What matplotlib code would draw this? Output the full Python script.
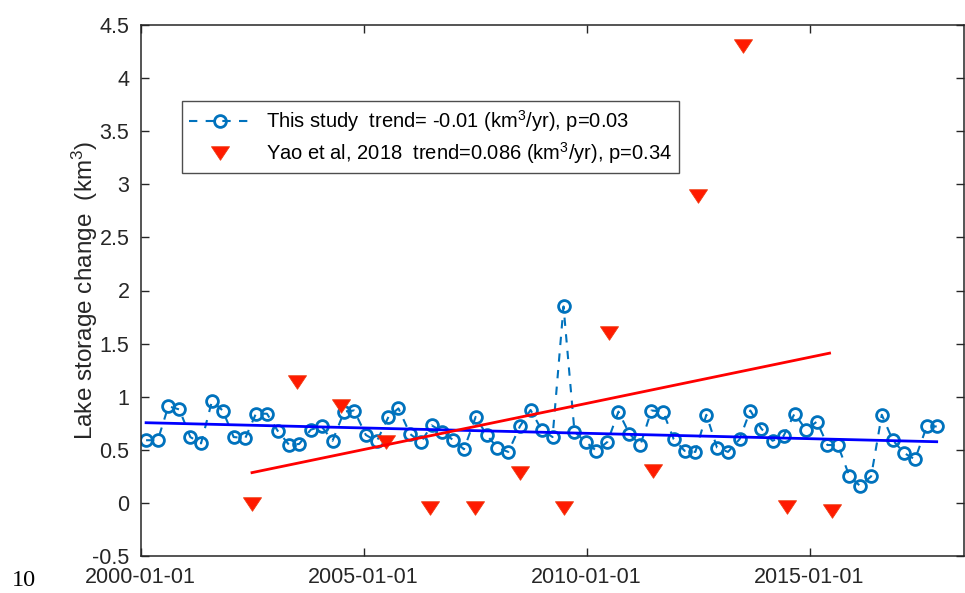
import numpy as np
import pandas as pd
import matplotlib
matplotlib.use("Agg")
import matplotlib.pyplot as plt
from matplotlib.path import Path

plt.rcParams["font.family"] = ["Liberation Sans", "DejaVu Sans"]
plt.rcParams["mathtext.default"] = "regular"

# this study: decimal years since 2000-01-01 and storage change (km3)
study_t = [0.125, 0.387, 0.625, 0.871, 1.117, 1.357, 1.603, 1.843, 2.089, 2.349,
           2.588, 2.835, 3.074, 3.334, 3.558, 3.820, 4.060, 4.306, 4.566, 4.790,
           5.052, 5.298, 5.560, 5.784, 6.043, 6.283, 6.529, 6.769, 7.015, 7.253,
           7.515, 7.761, 8.000, 8.247, 8.506, 8.746, 8.992, 9.239, 9.485, 9.731,
           9.978, 10.224, 10.470, 10.717, 10.963, 11.209, 11.455, 11.717, 11.955, 12.201,
           12.441, 12.687, 12.927, 13.173, 13.433, 13.672, 13.919, 14.172, 14.418, 14.664,
           14.920, 15.166, 15.403, 15.636, 15.896, 16.135, 16.382, 16.621, 16.867, 17.120,
           17.366, 17.629, 17.852]
study_v = [0.59, 0.59, 0.91, 0.88, 0.62, 0.56, 0.96, 0.87, 0.62, 0.61,
           0.84, 0.84, 0.68, 0.545, 0.555, 0.69, 0.72, 0.585, 0.86, 0.87,
           0.64, 0.58, 0.81, 0.89, 0.65, 0.57, 0.73, 0.67, 0.59, 0.505,
           0.81, 0.64, 0.52, 0.48, 0.72, 0.875, 0.69, 0.62, 1.85, 0.67,
           0.575, 0.49, 0.575, 0.86, 0.65, 0.545, 0.87, 0.86, 0.60, 0.49,
           0.48, 0.83, 0.52, 0.48, 0.60, 0.87, 0.70, 0.585, 0.63, 0.84,
           0.69, 0.765, 0.545, 0.545, 0.25, 0.16, 0.25, 0.83, 0.59, 0.47,
           0.41, 0.72, 0.72]

# Yao et al. 2018, yearly values (mid-year)
yao_t = [2.5, 3.5, 4.5, 5.5, 6.5, 7.5, 8.5, 9.5, 10.5, 11.5, 12.5, 13.5, 14.5, 15.5]
yao_v = [-0.01, 1.14, 0.91, 0.57, -0.05, -0.05, 0.28, -0.05, 1.60, 0.30, 2.89, 4.30, -0.04, -0.08]

# fitted trend lines (end points)
study_trend_t = [0.125, 17.852]
study_trend_v = [0.755, 0.576]
yao_trend_t = [2.5, 15.45]
yao_trend_v = [0.285, 1.41]

xtick_labels = ["2000-01-01", "2005-01-01", "2010-01-01", "2015-01-01"]


def to_dates(years):
    base = pd.Timestamp("2000-01-01")
    return [base + pd.Timedelta(days=y * 365.25) for y in years]


fig = plt.figure(figsize=(9.65, 5.93), dpi=100)
ax = fig.add_axes([140.5 / 965, 1 - 556 / 593, 823 / 965, 531 / 593])

blue = "#0072BD"
ax.plot(to_dates(study_t), study_v, "--o", color=blue, lw=1.5, ms=8.5,
        mfc="none", mew=2, dashes=(4, 4),
        label="This study  trend= -0.01 (km$^3$/yr), p=0.03")

tri = Path([(-1, 0.75), (1, 0.75), (0, -0.75), (-1, 0.75)],
           [Path.MOVETO, Path.LINETO, Path.LINETO, Path.CLOSEPOLY])
ax.plot(to_dates(yao_t), yao_v, ls="none", marker=tri, ms=13,
        mfc="#ff1a00", mec="#f03a10", mew=0.6,
        label="Yao et al, 2018  trend=0.086 (km$^3$/yr), p=0.34")

ax.plot(to_dates(study_trend_t), study_trend_v, color="#0000ff", lw=2)
ax.plot(to_dates(yao_trend_t), yao_trend_v, color="#ff0000", lw=2)

ax.set_xlim(pd.Timestamp("2000-01-01"), pd.Timestamp("2018-06-15"))
ax.set_ylim(-0.5, 4.5)
ax.set_xticks([pd.Timestamp(s) for s in xtick_labels])
ax.set_xticklabels(xtick_labels)
ax.set_yticks(np.arange(-0.5, 4.51, 0.5))
ax.set_yticklabels(["-0.5", "0", "0.5", "1", "1.5", "2", "2.5", "3", "3.5", "4", "4.5"])

grey = "#262626"
ax.tick_params(direction="in", length=6, width=1, colors=grey,
               labelsize=15.5, top=True, right=True, pad=8)
for sp in ax.spines.values():
    sp.set_color(grey)
    sp.set_linewidth(1.1)

ax.set_ylabel("Lake storage change  (km$^3$)", fontsize=17.5, color=grey, labelpad=-6)

leg = ax.legend(loc="upper left", bbox_to_anchor=(182 / 965, 1 - 101 / 593),
                bbox_transform=fig.transFigure, fontsize=14.5, frameon=True,
                fancybox=False, edgecolor="#222222", handlelength=3.1,
                handletextpad=0.7, borderpad=0.35, labelspacing=0.3,
                borderaxespad=0)
leg.get_frame().set_linewidth(1.0)

fig.text(12 / 965, 1 - 580 / 593, "10", family=["Liberation Serif", "DejaVu Serif"],
         fontsize=17.5, va="center", ha="left")

fig.savefig("out.png", dpi=100)
